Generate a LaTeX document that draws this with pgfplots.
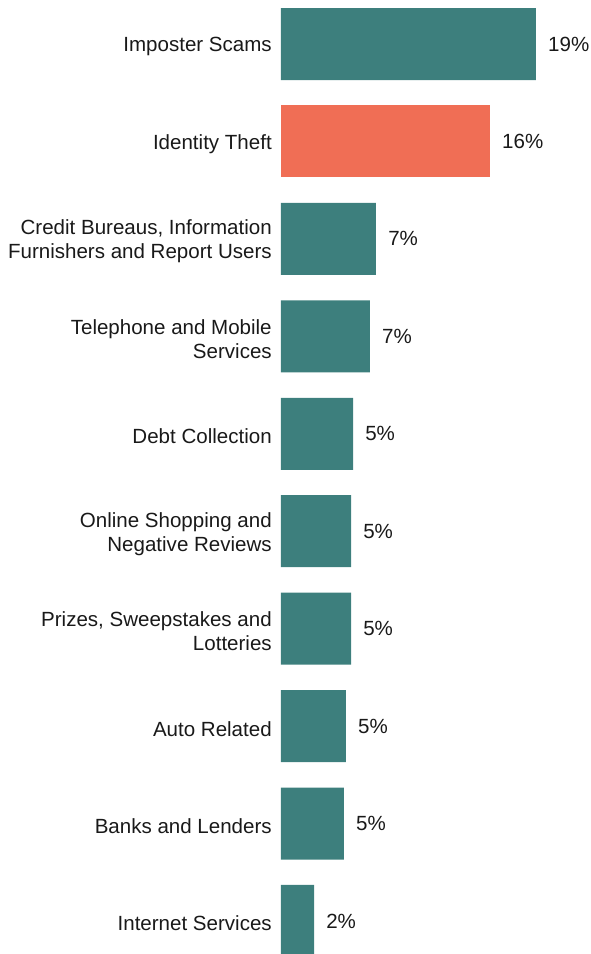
\documentclass[border=0pt]{standalone}
\usepackage{pgfplots}
\pgfplotsset{compat=1.18}
\usepackage{pgfplotstable}
\usepackage{fontspec}
\setmainfont{Liberation Sans}
\definecolor{teal}{HTML}{3D7F7D}
\definecolor{coral}{HTML}{F06E55}

\pgfplotstableread{
val idx lab
19.0 0 19\%
7.08 2 7\%
6.63 3 7\%
5.37 4 5\%
5.22 5 5\%
5.22 6 5\%
4.84 7 5\%
4.69 8 5\%
2.46 9 2\%
}\tealdata
\pgfplotstableread{
val idx lab
15.57 1 16\%
}\coraldata

\begin{document}
\begin{tikzpicture}
\path[use as bounding box] (0,0) rectangle (442.5pt,715.5pt);
\begin{axis}[
  at={(210.75pt,0pt)}, anchor=south west,
  scale only axis,
  width=231.75pt, height=715.5pt,
  xmin=0, xmax=23.03,
  ymin=-0.4516, ymax=9.339,
  y dir=reverse,
  axis line style={draw=none},
  xtick=\empty,
  xbar, bar width=0.739, bar shift=0pt,
  ytick={0,...,9},
  yticklabels={Imposter Scams, Identity Theft, {Credit Bureaus, Information\\Furnishers and Report Users}, {Telephone and Mobile\\Services}, Debt Collection, {Online Shopping and\\Negative Reviews}, {Prizes, Sweepstakes and\\Lotteries}, Auto Related, Banks and Lenders, Internet Services},
  major tick length=0pt,
  yticklabel style={font=\fontsize{15.4}{18}\selectfont, align=right, inner sep=0pt, xshift=-6.75pt, yshift=-2pt, anchor=east, text=black!90},
  nodes near coords,
  point meta=explicit symbolic,
  every node near coord/.append style={font=\fontsize{15.4}{18}\selectfont, anchor=west, inner sep=0pt, xshift=9pt, text=black!90},
]
\addplot[fill=teal, draw=none] table[x=val, y=idx, meta=lab] {\tealdata};
\addplot[fill=coral, draw=none] table[x=val, y=idx, meta=lab] {\coraldata};
\end{axis}
\end{tikzpicture}
\end{document}
